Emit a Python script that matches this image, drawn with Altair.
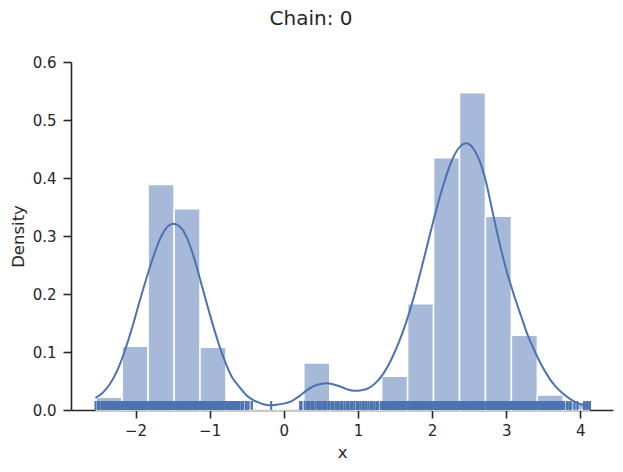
import altair as alt
import pandas as pd

# Histogram bins (edges) and densities
bin_left = [-2.53, -2.18, -1.83, -1.48, -1.13, -0.78, -0.43, -0.08, 0.27, 0.62,
            0.97, 1.32, 1.67, 2.02, 2.37, 2.72, 3.07, 3.42, 3.77]
bin_right = [-2.18, -1.83, -1.48, -1.13, -0.78, -0.43, -0.08, 0.27, 0.62, 0.97,
             1.32, 1.67, 2.02, 2.37, 2.72, 3.07, 3.42, 3.77, 4.12]
bin_density = [0.022, 0.110, 0.389, 0.347, 0.108, 0.017, 0.003, 0.003, 0.081, 0.014,
               0.014, 0.058, 0.183, 0.435, 0.547, 0.334, 0.129, 0.026, 0.014]

# KDE curve
kde_x = [-2.54, -2.45, -2.35, -2.25, -2.15, -2.05, -1.95, -1.85, -1.75, -1.65,
         -1.55, -1.49, -1.40, -1.30, -1.20, -1.10, -1.00, -0.90, -0.80, -0.70,
         -0.60, -0.50, -0.40, -0.30, -0.20, -0.10, 0.00, 0.10, 0.20, 0.30,
         0.40, 0.50, 0.575, 0.65, 0.75, 0.85, 0.95, 1.05, 1.15, 1.25,
         1.35, 1.45, 1.55, 1.65, 1.75, 1.85, 1.95, 2.05, 2.15, 2.25,
         2.35, 2.46, 2.55, 2.64, 2.73, 2.81, 2.90, 3.00, 3.10, 3.20,
         3.29, 3.40, 3.49, 3.58, 3.67, 3.76, 3.85, 3.94, 4.03, 4.13]
kde_y = [0.021, 0.029, 0.044, 0.067, 0.100, 0.140, 0.185, 0.228, 0.268, 0.300,
         0.318, 0.321, 0.316, 0.295, 0.258, 0.212, 0.166, 0.123, 0.086, 0.057,
         0.040, 0.025, 0.016, 0.011, 0.008, 0.009, 0.011, 0.015, 0.023, 0.033,
         0.041, 0.045, 0.046, 0.045, 0.041, 0.036, 0.033, 0.034, 0.038, 0.048,
         0.064, 0.087, 0.116, 0.151, 0.193, 0.241, 0.292, 0.342, 0.387, 0.425,
         0.450, 0.460, 0.452, 0.430, 0.392, 0.345, 0.293, 0.242, 0.200, 0.162,
         0.129, 0.097, 0.074, 0.055, 0.040, 0.029, 0.020, 0.013, 0.009, 0.006]

# Rug observations
rug_x = [
    -2.54, -2.51, -2.49, -2.46, -2.44, -2.42, -2.40, -2.38, -2.36, -2.34, -2.32,
    -2.30, -2.28, -2.27, -2.25, -2.23, -2.21, -2.19, -2.18, -2.16, -2.14, -2.12,
    -2.10, -2.09, -2.07, -2.05, -2.03, -2.01, -2.00, -1.98, -1.96, -1.94, -1.92,
    -1.91, -1.89, -1.87, -1.85, -1.83, -1.82, -1.80, -1.78, -1.76, -1.74, -1.73,
    -1.71, -1.69, -1.67, -1.65, -1.64, -1.62, -1.60, -1.58, -1.56, -1.55, -1.53,
    -1.51, -1.49, -1.47, -1.46, -1.44, -1.42, -1.40, -1.38, -1.37, -1.35, -1.33,
    -1.31, -1.29, -1.28, -1.26, -1.24, -1.22, -1.20, -1.19, -1.17, -1.15, -1.13,
    -1.11, -1.10, -1.08, -1.06, -1.04, -1.02, -1.01, -0.99, -0.97, -0.95, -0.93,
    -0.92, -0.90, -0.88, -0.86, -0.84, -0.83, -0.81, -0.79, -0.77, -0.75, -0.74,
    -0.72, -0.70, -0.68, -0.66, -0.65, -0.63, -0.61, -0.60,
    -0.57, -0.55, -0.51, -0.48, -0.43, -0.17, 0.22, 0.24, 0.28,
    0.31, 0.33, 0.35, 0.38, 0.40, 0.43, 0.46, 0.48, 0.50, 0.53, 0.55, 0.57, 0.60,
    0.62, 0.65, 0.67, 0.70, 0.72, 0.74, 0.77, 0.79, 0.82, 0.85, 0.87, 0.90, 0.92,
    0.95, 0.98, 1.00, 1.03, 1.06, 1.08, 1.11, 1.14, 1.17, 1.19, 1.22, 1.25, 1.27,
    1.31, 1.33, 1.34, 1.36, 1.38, 1.40, 1.42, 1.43, 1.45, 1.47, 1.49, 1.51, 1.52,
    1.54, 1.56, 1.58, 1.60, 1.61, 1.63, 1.65, 1.67, 1.69, 1.70, 1.72, 1.74, 1.76,
    1.78, 1.79, 1.81, 1.83, 1.85, 1.87, 1.88, 1.90, 1.92, 1.94, 1.96, 1.97, 1.99,
    2.01, 2.03, 2.05, 2.06, 2.08, 2.10, 2.12, 2.14, 2.15, 2.17, 2.19, 2.21, 2.23,
    2.24, 2.26, 2.28, 2.30, 2.32, 2.33, 2.35, 2.37, 2.39, 2.41, 2.42, 2.44, 2.46,
    2.48, 2.50, 2.51, 2.53, 2.55, 2.57, 2.59, 2.60, 2.62, 2.64, 2.66, 2.68, 2.69,
    2.71, 2.73, 2.75, 2.77, 2.78, 2.80, 2.82, 2.84, 2.86, 2.87, 2.89, 2.91, 2.93,
    2.95, 2.96, 2.98, 3.00, 3.02, 3.04, 3.05, 3.07, 3.09, 3.11, 3.13, 3.14, 3.16,
    3.18, 3.20, 3.22, 3.23, 3.25, 3.27, 3.29, 3.31, 3.32, 3.34, 3.36, 3.38, 3.40,
    3.41, 3.43, 3.45, 3.47, 3.49, 3.50, 3.52, 3.54, 3.56, 3.58, 3.59, 3.61, 3.63,
    3.65, 3.67, 3.68, 3.70, 3.72,
    3.74, 3.76, 3.78, 3.82, 3.85, 3.87, 3.92, 3.96, 4.05, 4.08, 4.10, 4.13,
]

x_ticks = [-2, -1, 0, 1, 2, 3, 4]
y_ticks = [0.0, 0.1, 0.2, 0.3, 0.4, 0.5, 0.6]

W, H = 542, 348
BLUE = "#4c72b0"
TXT = "#262626"
FONT = "DejaVu Sans"

hist_df = pd.DataFrame({"lo": bin_left, "hi": bin_right, "d": bin_density})
kde_df = pd.DataFrame({"x": kde_x, "y": kde_y})
rug_df = pd.DataFrame({"x": rug_x})

xscale = alt.Scale(domain=[-2.87, 4.44], nice=False, zero=False)
yscale = alt.Scale(domain=[0, 0.6], nice=False)

x_axis = alt.Axis(values=x_ticks, format="d", title="x", grid=False)
y_axis = alt.Axis(values=y_ticks, format=".1f", title="Density", grid=False)

bars = alt.Chart(hist_df).mark_bar(
    color="#a6b9d8", stroke="white", strokeWidth=1.5
).encode(
    x=alt.X("lo:Q", scale=xscale, axis=x_axis),
    x2="hi:Q",
    y=alt.Y("d:Q", scale=yscale, axis=y_axis),
    y2=alt.datum(0),
)

line = alt.Chart(kde_df).mark_line(
    color=BLUE, strokeWidth=2, interpolate="monotone"
).encode(
    x=alt.X("x:Q", scale=xscale),
    y=alt.Y("y:Q", scale=yscale),
)

rug = alt.Chart(rug_df).mark_rule(color=BLUE, strokeWidth=2).encode(
    x=alt.X("x:Q", scale=xscale),
    y=alt.value(H - 9),
    y2=alt.value(H),
)

chart = alt.layer(bars, line, rug).properties(
    width=W,
    height=H,
    title=alt.TitleParams(
        "Chain: 0", fontSize=20, font=FONT, fontWeight="normal", color=TXT,
        anchor="middle", dx=-31, offset=26,
    ),
    padding={"left": 71, "top": 62, "right": 10, "bottom": 62},
    autosize=alt.AutoSizeParams(type="none"),
).configure_view(stroke=None).configure_axis(
    domainColor=TXT, domainWidth=1.6, tickColor=TXT, tickWidth=1.6, tickSize=8,
    labelFont=FONT, labelFontSize=15, labelColor=TXT, labelPadding=5,
    titleFont=FONT, titleFontSize=16.5, titleColor=TXT, titleFontWeight="normal",
    titlePadding=6,
).configure_axisY(labelPadding=7)

chart.save("out.html", embed_options={"renderer": "svg", "actions": False})
